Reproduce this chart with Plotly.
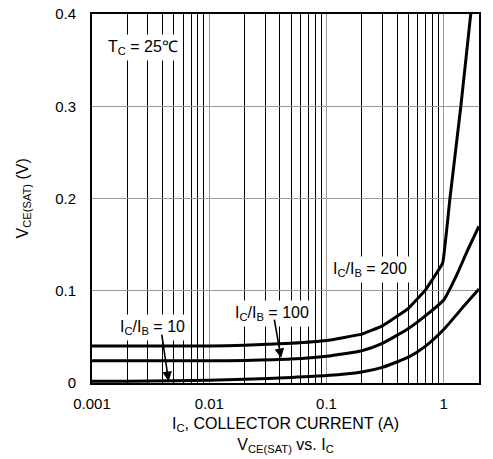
import math
import plotly.graph_objects as go

# --- data ---
ic_200 = [0.001, 0.002, 0.005, 0.01, 0.02, 0.05, 0.1, 0.2, 0.3, 0.5, 0.7, 0.8, 0.98, 1.13, 1.4, 1.7, 1.75]
vce_200 = [0.040, 0.040, 0.040, 0.040, 0.041, 0.043, 0.046, 0.053, 0.062, 0.081, 0.101, 0.112, 0.130, 0.200, 0.300, 0.400, 0.415]

ic_100 = [0.001, 0.002, 0.005, 0.01, 0.02, 0.05, 0.1, 0.2, 0.3, 0.5, 0.7, 1.0, 1.3, 1.6, 2.0]
vce_100 = [0.024, 0.024, 0.024, 0.024, 0.0245, 0.026, 0.029, 0.035, 0.043, 0.059, 0.073, 0.090, 0.118, 0.144, 0.170]

ic_10 = [0.001, 0.002, 0.005, 0.01, 0.02, 0.05, 0.1, 0.2, 0.3, 0.5, 0.7, 1.0, 1.5, 2.0]
vce_10 = [0.002, 0.002, 0.0025, 0.003, 0.004, 0.006, 0.008, 0.012, 0.017, 0.028, 0.040, 0.058, 0.084, 0.102]

x_ticks = [0.001, 0.01, 0.1, 1]
x_tick_text = ["0.001", "0.01", "0.1", "1"]
y_ticks = [0, 0.1, 0.2, 0.3, 0.4]
y_tick_text = ["0", "0.1", "0.2", "0.3", "0.4"]

FONT = "Liberation Sans, Arial, sans-serif"

fig = go.Figure()
# the 200 curve has a sharp knee at 1 A, so keep its smoothing low
for xs, ys, smooth in [(ic_200, vce_200, 0.25), (ic_100, vce_100, 0.5), (ic_10, vce_10, 0.5)]:
    fig.add_trace(go.Scatter(x=xs, y=ys, mode="lines",
                             line=dict(color="black", width=3, shape="spline", smoothing=smooth),
                             showlegend=False, hoverinfo="skip"))

# --- labels (white boxes hide the grid behind them) ---
labels = [
    ("T<sub>C</sub> = 25℃", 0.0027, 0.364),
    ("I<sub>C</sub>/I<sub>B</sub> = 200", 0.235, 0.123),
    ("I<sub>C</sub>/I<sub>B</sub> = 100", 0.0345, 0.075),
    ("I<sub>C</sub>/I<sub>B</sub> = 10", 0.0033, 0.060),
]
for text, x, y in labels:
    fig.add_annotation(x=math.log10(x), y=y, text=text, showarrow=False,
                       font=dict(family=FONT, size=16, color="black"),
                       bgcolor="white", borderpad=3)

# arrows: tip on the curve, tail under the label
arrows = [(0.0045, 0.002, -7, -48), (0.041, 0.027, -7, -40)]
for x, y, ax, ay in arrows:
    fig.add_annotation(x=math.log10(x), y=y, text="", showarrow=True,
                       ax=ax, ay=ay, arrowhead=2, arrowsize=1.2,
                       arrowwidth=1.6, arrowcolor="black")

# axis titles placed in pixels off the plot edges
fig.add_annotation(xref="paper", yref="paper", x=0.5, y=0, yanchor="middle", yshift=-52,
                   text="I<sub>C</sub>, COLLECTOR CURRENT (A)<br>V<sub>CE(SAT)</sub> vs. I<sub>C</sub>",
                   showarrow=False, font=dict(family=FONT, size=16, color="black"))
fig.add_annotation(xref="paper", yref="paper", x=0, y=0.5, xanchor="center", xshift=-69,
                   textangle=-90, text="V<sub>CE(SAT)</sub> (V)",
                   showarrow=False, font=dict(family=FONT, size=16, color="black"))

fig.update_xaxes(
    type="log", range=[-3, math.log10(2)],
    tickvals=x_ticks, ticktext=x_tick_text,
    showgrid=True, gridcolor="#9a9a9a", gridwidth=1.3,
    minor=dict(dtick="D1", showgrid=True, gridcolor="black", gridwidth=1.4, ticks=""),
    showline=True, mirror=True, linecolor="black", linewidth=2,
    ticks="", ticklabelstandoff=6, automargin=False, ticklabeloverflow="allow",
    tickfont=dict(family=FONT, size=15, color="black"),
    zeroline=False,
)
fig.update_yaxes(
    range=[0, 0.4], tickvals=y_ticks, ticktext=y_tick_text,
    showgrid=True, gridcolor="#9a9a9a", gridwidth=1.3,
    showline=True, mirror=True, linecolor="black", linewidth=2,
    ticks="", ticklabelstandoff=11, automargin=False, ticklabeloverflow="allow",
    tickfont=dict(family=FONT, size=15, color="black"),
    zeroline=False,
)
fig.update_layout(
    width=493, height=459,
    margin=dict(l=92, r=14, t=14, b=76),
    plot_bgcolor="white", paper_bgcolor="white",
    font=dict(family=FONT, color="black"),
)

# drop the default 8px body margin so the figure sits flush with the window
fig.write_html("out.html", config={"displayModeBar": False},
               post_script="document.body.style.margin = '0';")
